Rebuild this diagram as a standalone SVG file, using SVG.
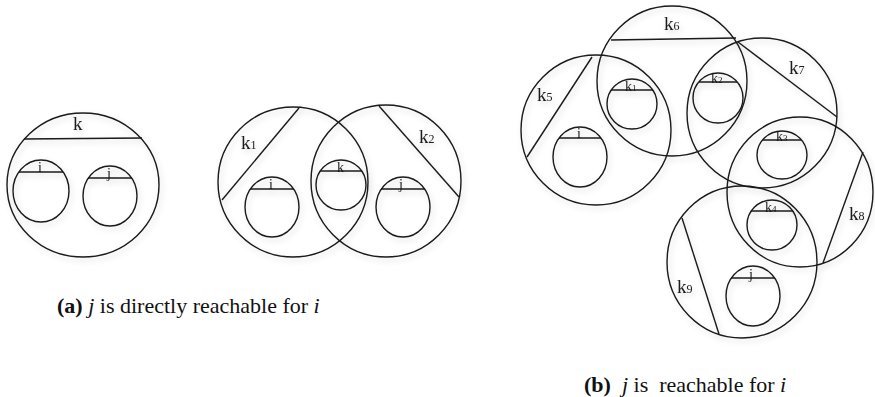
<svg xmlns="http://www.w3.org/2000/svg" width="875" height="397" viewBox="0 0 875 397">
<defs>
<filter id="soft" x="-20%" y="-20%" width="140%" height="140%">
<feGaussianBlur in="SourceAlpha" stdDeviation="3"/>
<feOffset dx="2" dy="3" result="b"/>
<feComponentTransfer><feFuncA type="linear" slope="0.18"/></feComponentTransfer>
<feMerge><feMergeNode/><feMergeNode in="SourceGraphic"/></feMerge>
</filter>
</defs>
<style>
.c{fill:none;stroke:#1a1a1a;stroke-width:1.4}
.t{font-family:"Liberation Serif","Times New Roman",serif;fill:#1a1a1a}
.big{font-size:19px}
.sub{font-size:12px}
.sm{font-size:14px}
.smsub{font-size:9px}
.cap{font-family:"Liberation Serif","Times New Roman",serif;font-size:22px;fill:#111}
</style>
<rect width="875" height="397" fill="#fff"/>
<g filter="url(#soft)">
<!-- Panel (a) left -->
<g id="a-k">
<ellipse class="c" cx="83" cy="185" rx="76" ry="72"/>
<line class="c" x1="24" y1="139" x2="142" y2="138"/>
<text class="t big" x="73" y="130">k</text>
</g>
<g id="a-i">
<ellipse class="c" cx="41" cy="191" rx="28" ry="31"/>
<line class="c" x1="19" y1="172" x2="63" y2="172"/>
<text class="t sm" x="38" y="172">i</text>
</g>
<g id="a-j">
<ellipse class="c" cx="110" cy="196" rx="27" ry="30"/>
<line class="c" x1="88" y1="178" x2="132" y2="178"/>
<text class="t sm" x="107" y="178">j</text>
</g>
<!-- Panel (a) right -->
<g id="a2-k1">
<ellipse class="c" cx="293" cy="182" rx="75" ry="75"/>
<line class="c" x1="299" y1="108" x2="222" y2="200"/>
<text class="t big" x="241" y="149">k<tspan class="sub">1</tspan></text>
</g>
<g id="a2-k2">
<ellipse class="c" cx="386" cy="181" rx="75" ry="76"/>
<line class="c" x1="379" y1="106" x2="459" y2="197"/>
<text class="t big" x="419" y="143">k<tspan class="sub">2</tspan></text>
</g>
<g id="a2-k">
<ellipse class="c" cx="341" cy="185" rx="25" ry="25"/>
<line class="c" x1="320" y1="171" x2="362" y2="171"/>
<text class="t sm" x="337" y="172">k</text>
</g>
<g id="a2-i">
<ellipse class="c" cx="272" cy="207" rx="27" ry="30"/>
<line class="c" x1="250" y1="189" x2="294" y2="189"/>
<text class="t sm" x="269" y="189">i</text>
</g>
<g id="a2-j">
<ellipse class="c" cx="403" cy="207" rx="27" ry="30"/>
<line class="c" x1="381" y1="189" x2="425" y2="189"/>
<text class="t sm" x="399" y="189">j</text>
</g>
<!-- Panel (b) -->
<g id="b-k6">
<ellipse class="c" cx="672" cy="81" rx="75" ry="75"/>
<line class="c" x1="611" y1="40" x2="736" y2="38"/>
<text class="t big" x="664" y="30">k<tspan class="sub">6</tspan></text>
</g>
<g id="b-k5">
<ellipse class="c" cx="596" cy="130" rx="75" ry="75"/>
<line class="c" x1="592" y1="57" x2="527" y2="157"/>
<text class="t big" x="537" y="101">k<tspan class="sub">5</tspan></text>
</g>
<g id="b-k7">
<ellipse class="c" cx="762" cy="113" rx="75" ry="75"/>
<line class="c" x1="738" y1="42" x2="837" y2="117"/>
<text class="t big" x="789" y="74">k<tspan class="sub">7</tspan></text>
</g>
<g id="b-k8">
<ellipse class="c" cx="800" cy="192" rx="73" ry="75"/>
<line class="c" x1="863" y1="152" x2="823" y2="263"/>
<text class="t big" x="849" y="220">k<tspan class="sub">8</tspan></text>
</g>
<g id="b-k9">
<ellipse class="c" cx="742" cy="262" rx="75" ry="76"/>
<line class="c" x1="682" y1="218" x2="719" y2="334"/>
<text class="t big" x="677" y="293">k<tspan class="sub">9</tspan></text>
</g>
<g id="b-k1">
<ellipse class="c" cx="632" cy="104" rx="25" ry="25"/>
<line class="c" x1="611" y1="90" x2="653" y2="90"/>
<text class="t sm" x="625" y="91">k<tspan class="smsub">1</tspan></text>
</g>
<g id="b-k2">
<ellipse class="c" cx="718" cy="98" rx="25" ry="25"/>
<line class="c" x1="699" y1="82" x2="737" y2="82"/>
<text class="t sm" x="711" y="83">k<tspan class="smsub">2</tspan></text>
</g>
<g id="b-k3">
<ellipse class="c" cx="782" cy="155" rx="25" ry="24"/>
<line class="c" x1="763" y1="140" x2="801" y2="140"/>
<text class="t sm" x="776" y="141">k<tspan class="smsub">3</tspan></text>
</g>
<g id="b-k4">
<ellipse class="c" cx="772" cy="225" rx="25" ry="25"/>
<line class="c" x1="751" y1="211" x2="793" y2="211"/>
<text class="t sm" x="765" y="212">k<tspan class="smsub">4</tspan></text>
</g>
<g id="b-i">
<ellipse class="c" cx="580" cy="157" rx="27" ry="30"/>
<line class="c" x1="559" y1="138" x2="601" y2="138"/>
<text class="t sm" x="577" y="138">i</text>
</g>
<g id="b-j">
<ellipse class="c" cx="753" cy="296" rx="27" ry="30"/>
<line class="c" x1="731" y1="278" x2="775" y2="278"/>
<text class="t sm" x="749" y="279">j</text>
</g>
</g>
<g id="connectors"/>
<text class="cap" x="57" y="313" xml:space="preserve"><tspan font-weight="bold">(a)</tspan> <tspan font-style="italic">j</tspan> is directly reachable for <tspan font-style="italic">i</tspan></text>
<text class="cap" x="584" y="392" xml:space="preserve"><tspan font-weight="bold">(b)</tspan>  <tspan font-style="italic">j</tspan> is  reachable for <tspan font-style="italic">i</tspan></text>
</svg>
